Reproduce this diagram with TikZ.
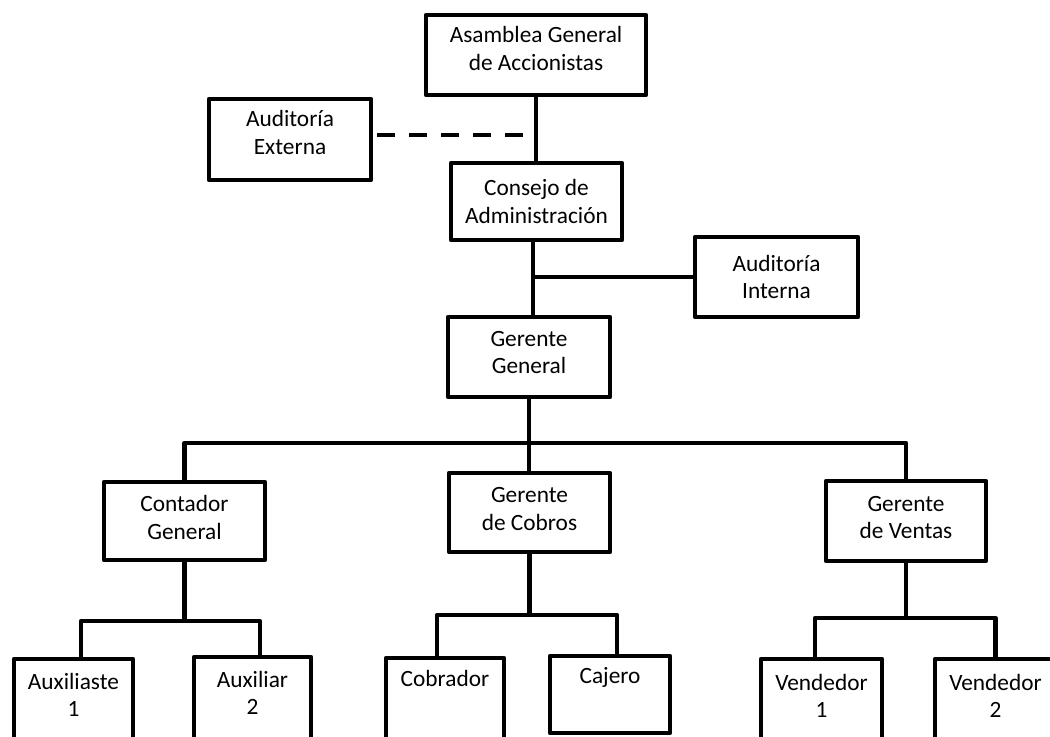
\documentclass[tikz,border=0pt]{standalone}
\usepackage{fontspec}
\setmainfont{Carlito}
\tikzset{
  box/.style={draw, line width=3.2pt, line join=round, rectangle, inner sep=0pt, fill=white},
  sz/.style 2 args={minimum width=#1*0.75pt, minimum height=#2*0.75pt},
  txt/.style={font=\fontsize{17.5}{20.5}\selectfont, align=center, inner sep=0pt},
  conn/.style={line width=3.2pt, line join=round},
  dashline/.style={line width=3.2pt, dash pattern=on 13.5pt off 10.5pt}
}
\begin{document}
\begin{tikzpicture}[x=0.75pt, y=-0.75pt]
\path[use as bounding box, clip] (0,0) rectangle (1050,736);
\fill[white] (0,0) rectangle (1050,736);

% boxes
\node[box, sz={220}{80}, label={[txt,yshift=4.9pt]center:{Asamblea General\\de Accionistas}}] (asm) at (536,55) {};
\node[box, sz={162}{81}, label={[txt,yshift=5.2pt]center:{Auditoría\\Externa}}] (ext) at (290,139.5) {};
\node[box, sz={171}{77}, label={[txt]center:{Consejo de\\Administración}}] (cons) at (536.5,201.5) {};
\node[box, sz={163}{80}, label={[txt]center:{Auditoría\\Interna}}] (int) at (776.5,277) {};
\node[box, sz={162}{80}, label={[txt,yshift=3.4pt]center:{Gerente\\General}}] (gg) at (529,357) {};
\node[box, sz={161}{78}, label={[txt,yshift=2.6pt]center:{Contador\\General}}] (cg) at (184.5,521) {};
\node[box, sz={161}{79}, label={[txt,yshift=2.6pt]center:{Gerente\\de Cobros}}] (gc) at (529.5,512.5) {};
\node[box, sz={160}{80}, label={[txt,yshift=2.6pt]center:{Gerente\\de Ventas}}] (gv) at (906,521) {};

\node[box, sz={119}{110}, label={[txt,yshift=14.25pt]center:{Auxiliaste\\1}}] (a1) at (73.5,714) {};
\node[box, sz={117}{110}, label={[txt,yshift=14.25pt]center:{Auxiliar\\2}}] (a2) at (252.5,712) {};
\node[box, sz={118}{110}, label={[txt,yshift=26.25pt]center:{Cobrador}}] (cob) at (445,713) {};
\node[box, sz={120}{77}, label={[txt,yshift=13.1pt]center:{Cajero}}] (caj) at (610,694.5) {};
\node[box, sz={121}{110}, label={[txt,yshift=13.5pt]center:{Vendedor\\1}}] (v1) at (821.5,714) {};
\node[box, sz={121}{110}, label={[txt,yshift=13.5pt]center:{Vendedor\\2}}] (v2) at (995.5,714) {};

% connectors
\draw[conn] (asm.south) -- (asm.south |- cons.north);
\coordinate (dEnd) at (525,135);
\draw[dashline] ([xshift=3pt]ext.east |- dEnd) -- (dEnd);
\coordinate (trunk) at ([xshift=-2.5pt]cons.south);
\draw[conn] (trunk) -- (trunk |- gg.north);
\draw[conn] (int.west) -- (int.west -| trunk);

\coordinate (bus) at (529,443);
\draw[conn] (gg.south) -- (gg.south |- gc.north);
\draw[conn] (cg.north) -- (cg.north |- bus) -- (gv.north |- bus) -- (gv.north);

\coordinate (cgBus) at (184.5,621);
\draw[conn] (cg.south) -- (cgBus);
\draw[conn] ([xshift=5.6pt]a1.north) |- (cgBus) -| ([xshift=5.6pt]a2.north);

\coordinate (gcBus) at (529.5,615);
\draw[conn] (gc.south) -- (gcBus);
\draw[conn] ([xshift=-6pt]cob.north) |- (gcBus) -| ([xshift=5.25pt]caj.north);

\coordinate (gvBus) at (906,618);
\draw[conn] (gv.south) -- (gvBus);
\draw[conn] ([xshift=-4.9pt]v1.north) |- (gvBus) -| (v2.north);
\end{tikzpicture}
\end{document}
